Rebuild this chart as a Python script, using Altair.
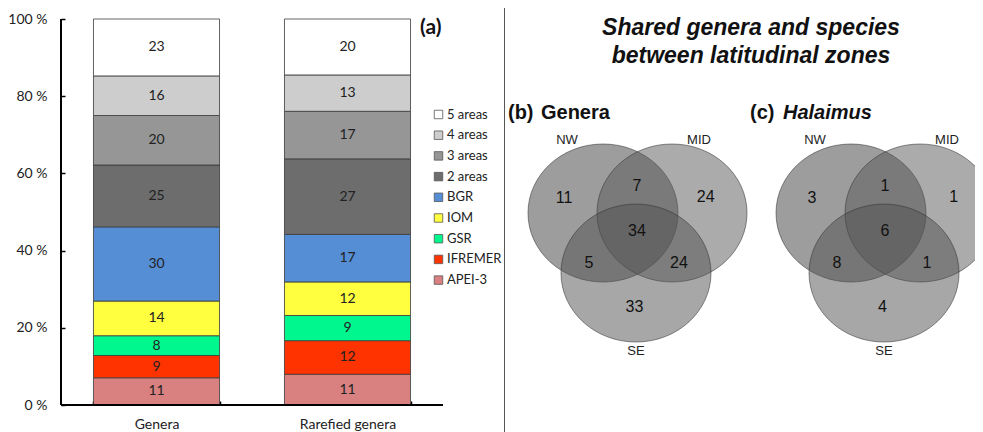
import altair as alt
import pandas as pd

# ---------------- data ----------------
categories = ["Genera", "Rarefied genera"]
groups = ["APEI-3", "IFREMER", "GSR", "IOM", "BGR", "2 areas", "3 areas", "4 areas", "5 areas"]
genera_counts = [11, 9, 8, 14, 30, 25, 20, 16, 23]
rarefied_counts = [11, 12, 9, 12, 17, 27, 17, 13, 20]
group_colors = ["#d98080", "#ff3300", "#00f78e", "#ffff40", "#558ed5",
                "#6d6d6d", "#969696", "#cdcdcd", "#ffffff"]
y_ticks = [0, 0.2, 0.4, 0.6, 0.8, 1.0]
panel_a_label = ["(a)"]

zones = ["NW", "MID", "SE"]
zone_fills = ["#3c3c3c", "#575757", "#505050"]
regions = ["NW", "MID", "SE", "NW+MID", "NW+SE", "MID+SE", "all"]
genera_regions = [11, 24, 33, 7, 5, 24, 34]
halaimus_regions = [3, 1, 4, 1, 8, 1, 6]
main_title = ["Shared genera and species", "between latitudinal zones"]
panel_tags = ["(b)", "(c)"]
panel_names = ["Genera", "Halaimus"]
panel_name_italic = ["normal", "italic"]

# ---------------- venn layout (units of circle radius) ----------------
circle_x = [0.0, 0.92, 0.44]
circle_y = [0.0, 0.0, -0.87]
region_x = [-0.52, 1.37, 0.42, 0.453, -0.187, 1.013, 0.453]
region_y = [0.217, 0.232, -1.362, 0.391, -0.725, -0.725, -0.261]
zone_label_x = [-0.48, 1.28, 0.44]
zone_label_y = [1.058, 1.058, -2.0]
panel_offset = [0.0, 3.307]
tag_x = [-1.267, -1.347]
name_x = [-0.827, -0.907]
tag_y = 1.449
title_x = 1.973
title_y = [2.681, 2.275]
divider_x = -1.313
ELLIPSE = "M -1 0 A 1 0.92 0 1 0 1 0 A 1 0.92 0 1 0 -1 0 Z"

PLOT_W, PLOT_H = 914, 386

# ---------------- panel (a): stacked bars ----------------
rows = []
for cat, counts in zip(categories, [genera_counts, rarefied_counts]):
    for i, (g, c) in enumerate(zip(groups, counts)):
        rows.append(dict(cat=cat, group=g, count=c, order=i))
bars_df = pd.DataFrame(rows)

xscale = alt.Scale(domain=categories, range=[0, 382], paddingInner=0.34, paddingOuter=0.17)
yscale = alt.Scale(domain=[0, 1], nice=False, zero=False)
x_axis = alt.Axis(title=None, domain=False, offset=-4, tickSize=4, tickBand="extent",
                  tickColor="black", tickWidth=1.5, labelAngle=0, labelPadding=12,
                  labelFont="Lato", labelFontSize=14, labelColor="#222")
y_axis = alt.Axis(title=None, values=y_ticks, grid=False, domain=False, offset=-4,
                  tickSize=4, tickColor="black", tickWidth=1.5, labelPadding=14,
                  labelExpr="format(datum.value * 100, 'd') + ' %'",
                  labelFont="Lato", labelFontSize=14, labelColor="#222")

base = alt.Chart(bars_df).transform_stack(
    stack="count", groupby=["cat"], as_=["y0", "y1"], offset="normalize",
    sort=[alt.SortField("order", order="ascending")]
).transform_calculate(mid="(datum.y0 + datum.y1) / 2")

bars = base.mark_bar(stroke="#3a3a3a", strokeWidth=0.8).encode(
    x=alt.X("cat:N", scale=xscale, sort=categories, axis=x_axis),
    y=alt.Y("y0:Q", scale=yscale, axis=y_axis),
    y2="y1:Q",
    color=alt.Color("group:N", scale=alt.Scale(domain=groups[::-1], range=group_colors[::-1]),
                    legend=alt.Legend(title=None, orient="none", legendX=371, legendY=89,
                                      symbolType="square", symbolSize=72,
                                      symbolStrokeColor="#555", symbolStrokeWidth=0.8,
                                      labelFont="Lato", labelFontSize=13, labelColor="#222",
                                      rowPadding=6.7, padding=0, labelOffset=2)),
)

bar_text = base.mark_text(font="Lato", fontSize=14, color="#222").encode(
    x=alt.X("cat:N", scale=xscale, sort=categories, axis=x_axis),
    y=alt.Y("mid:Q", scale=yscale, axis=y_axis),
    text="count:Q",
)

xline = alt.Chart(pd.DataFrame({"v": [0]})).mark_rule(color="black", strokeWidth=2).encode(
    y=alt.Y("v:Q", scale=yscale, axis=y_axis), x=alt.value(0), x2=alt.value(382))
yline = alt.Chart(pd.DataFrame({"lo": [0], "hi": [1]})).mark_rule(color="black", strokeWidth=2).encode(
    y=alt.Y("lo:Q", scale=yscale, axis=y_axis), y2="hi:Q", x=alt.value(0))

a_label = alt.Chart(pd.DataFrame({"t": panel_a_label})).mark_text(
    font="Lato", fontSize=21, fontWeight="bold", align="left", color="#111").encode(
    text="t:N", x=alt.value(359), y=alt.value(9))

bar_group = alt.layer(bars, bar_text, xline, yline, a_label)

# ---------------- panels (b), (c): venn ----------------
vx = alt.Scale(domain=[-7.2267, 4.96], nice=False, zero=False)
vy = alt.Scale(domain=[-2.7826, 2.8116], nice=False, zero=False)

circ_rows, num_rows, zl_rows = [], [], []
k = 0
for p, off in enumerate(panel_offset):
    for z, cx, cy in zip(zones, circle_x, circle_y):
        circ_rows.append(dict(zone=z, cx=cx + off, cy=cy, k=k))
        k += 1
    vals = [genera_regions, halaimus_regions][p]
    for r, v, rx, ry in zip(regions, vals, region_x, region_y):
        num_rows.append(dict(x=rx + off, y=ry, v=str(v)))
    for z, lx, ly in zip(zones, zone_label_x, zone_label_y):
        zl_rows.append(dict(x=lx + off, y=ly, t=z))

circles = alt.Chart(pd.DataFrame(circ_rows)).mark_point(
    shape=ELLIPSE, filled=True, opacity=1, fillOpacity=0.5,
    stroke="#333", strokeWidth=1, strokeOpacity=0.55).encode(
    x=alt.X("cx:Q", scale=vx, axis=None),
    y=alt.Y("cy:Q", scale=vy, axis=None),
    fill=alt.Fill("zone:N", scale=alt.Scale(domain=zones, range=zone_fills), legend=None),
    size=alt.value(22500),
    order=alt.Order("k:Q"),
)

numbers = alt.Chart(pd.DataFrame(num_rows)).mark_text(
    font="Liberation Sans", fontSize=16, color="#111").encode(
    x=alt.X("x:Q", scale=vx, axis=None), y=alt.Y("y:Q", scale=vy, axis=None), text="v:N")

zone_labels = alt.Chart(pd.DataFrame(zl_rows)).mark_text(
    font="Liberation Sans", fontSize=13, color="#222").encode(
    x=alt.X("x:Q", scale=vx, axis=None), y=alt.Y("y:Q", scale=vy, axis=None), text="t:N")

tag_df = pd.DataFrame({"x": [tx + o for tx, o in zip(tag_x, panel_offset)],
                       "y": [tag_y] * 2, "t": panel_tags})
tags = alt.Chart(tag_df).mark_text(
    font="Liberation Sans", fontSize=20, fontWeight="bold", align="left", color="#111").encode(
    x=alt.X("x:Q", scale=vx, axis=None), y=alt.Y("y:Q", scale=vy, axis=None), text="t:N")

name_df = pd.DataFrame({"x": [nx + o for nx, o in zip(name_x, panel_offset)],
                        "y": [tag_y] * 2, "t": panel_names, "s": panel_name_italic})
names_n = alt.Chart(name_df).transform_filter("datum.s == 'normal'").mark_text(
    font="Liberation Sans", fontSize=20, fontWeight="bold", align="left", color="#111").encode(
    x=alt.X("x:Q", scale=vx, axis=None), y=alt.Y("y:Q", scale=vy, axis=None), text="t:N")
names_i = alt.Chart(name_df).transform_filter("datum.s == 'italic'").mark_text(
    font="Liberation Sans", fontSize=20, fontWeight="bold", fontStyle="italic", align="left",
    color="#111").encode(
    x=alt.X("x:Q", scale=vx, axis=None), y=alt.Y("y:Q", scale=vy, axis=None), text="t:N")

title_df = pd.DataFrame({"x": [title_x] * 2, "y": title_y, "t": main_title})
title = alt.Chart(title_df).mark_text(
    font="Liberation Sans", fontSize=23, fontWeight="bold", fontStyle="italic", color="#111").encode(
    x=alt.X("x:Q", scale=vx, axis=None), y=alt.Y("y:Q", scale=vy, axis=None), text="t:N")

divider = alt.Chart(pd.DataFrame({"x": [divider_x]})).mark_rule(color="#555", strokeWidth=1).encode(
    x=alt.X("x:Q", scale=vx, axis=None), y=alt.value(-11), y2=alt.value(413))

venn_group = alt.layer(circles, numbers, zone_labels, tags, names_n, names_i, title, divider)

chart = alt.layer(bar_group, venn_group).resolve_scale(
    x="independent", y="independent"
).properties(
    width=PLOT_W, height=PLOT_H,
    background="white",
    autosize=alt.AutoSizeParams(type="none"),
    padding={"left": 53, "top": 11, "right": 0, "bottom": 27},
).configure_view(stroke=None, strokeWidth=0)

chart.save("out.html", embed_options={"renderer": "svg", "actions": False})
